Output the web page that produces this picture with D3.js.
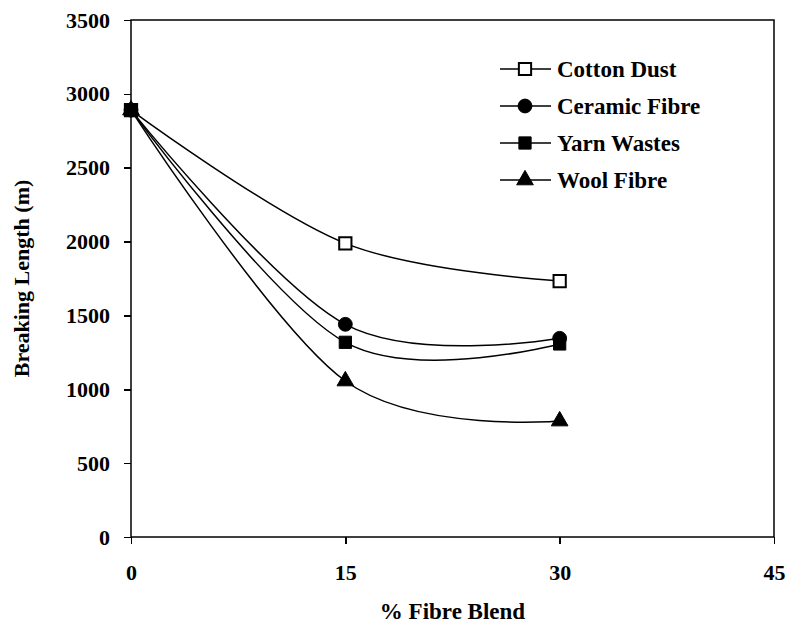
<!DOCTYPE html>
<html>
<head>
    <meta charset="utf-8">
    <script src="https://cdnjs.cloudflare.com/ajax/libs/d3/7.8.5/d3.min.js"></script>
    <style>
        body { margin: 0; background-color: #fff; }
        .axis path, .axis line { fill: none; stroke: #000; stroke-width: 1.5px; shape-rendering: crispEdges; }
    </style>
</head>
<body>
    <svg width="788" height="626"></svg>
    <script>
        // data
        var blend = [0, 15, 30];
        var seriesNames = ["Cotton Dust", "Ceramic Fibre", "Yarn Wastes", "Wool Fibre"];
        var cottonDust = [2890, 1988, 1733];
        var ceramicFibre = [2890, 1440, 1345];
        var yarnWastes = [2890, 1318, 1307];
        var woolFibre = [2890, 1056, 785];
        var xTicks = [0, 15, 30, 45];
        var yTicks = [0, 500, 1000, 1500, 2000, 2500, 3000, 3500];

        var FONT = "'Liberation Serif', 'Times New Roman', 'DejaVu Serif', serif";

        var series = [
            {name: seriesNames[0], values: cottonDust, symbol: "square", fill: "#fff"},
            {name: seriesNames[1], values: ceramicFibre, symbol: "circle", fill: "#000"},
            {name: seriesNames[2], values: yarnWastes, symbol: "square", fill: "#000"},
            {name: seriesNames[3], values: woolFibre, symbol: "triangle", fill: "#000"}
        ];

        var svg = d3.select("svg"),
            margin = {top: 20, right: 14, bottom: 89, left: 131},
            width = svg.attr("width") - margin.left - margin.right,
            height = svg.attr("height") - margin.top - margin.bottom,
            g = svg.append("g").attr("transform", "translate(" + margin.left + "," + margin.top + ")");

        var x = d3.scaleLinear().domain([0, 45]).range([0, width]),
            y = d3.scaleLinear().domain([0, 3500]).range([height, 0]);

        // frame
        g.append("rect")
            .attr("width", width)
            .attr("height", height)
            .attr("fill", "none")
            .attr("stroke", "#000")
            .attr("stroke-width", 1.5);

        var xAxis = g.append("g")
            .attr("class", "axis")
            .attr("transform", "translate(0," + height + ")")
            .call(d3.axisBottom(x).tickValues(xTicks).tickFormat(d3.format("d")).tickSize(7).tickPadding(20));
        xAxis.select(".domain").remove();

        var yAxis = g.append("g")
            .attr("class", "axis")
            .call(d3.axisLeft(y).tickValues(yTicks).tickFormat(d3.format("d")).tickSize(7).tickPadding(14));
        yAxis.select(".domain").remove();

        [xAxis, yAxis].forEach(function(a) {
            a.attr("font-family", null).attr("font-size", null);
            a.selectAll("text")
                .style("font-family", FONT)
                .style("font-weight", "bold")
                .style("font-size", "22px")
                .attr("fill", "#000");
        });

        // lines
        var line = d3.line()
            .x(function(d, i) { return x(blend[i]); })
            .y(function(d) { return y(d); })
            .curve(d3.curveCardinal.tension(0));

        g.selectAll(".line")
            .data(series)
            .enter()
            .append("path")
            .attr("class", "line")
            .attr("d", function(d) { return line(d.values); })
            .attr("fill", "none")
            .attr("stroke", "#000")
            .attr("stroke-width", 1.5);

        function symbolPath(s) {
            if (s === "circle") return d3.symbol().type(d3.symbolCircle).size(150)();
            if (s === "triangle") return d3.symbol().type(d3.symbolTriangle).size(120)();
            return d3.symbol().type(d3.symbolSquare).size(150)();
        }

        series.forEach(function(s) {
            g.selectAll(null)
                .data(s.values)
                .enter()
                .append("path")
                .attr("transform", function(d, i) { return "translate(" + x(blend[i]) + "," + y(d) + ")"; })
                .attr("d", symbolPath(s.symbol))
                .attr("fill", s.fill)
                .attr("stroke", "#000")
                .attr("stroke-width", s.fill === "#fff" ? 2 : 1);
        });

        // legend
        var legend = svg.append("g").attr("transform", "translate(500,69)");
        var item = legend.selectAll(".item")
            .data(series)
            .enter()
            .append("g")
            .attr("transform", function(d, i) { return "translate(0," + i * 37 + ")"; });
        item.append("line")
            .attr("x1", 0).attr("x2", 51)
            .attr("stroke", "#000").attr("stroke-width", 1.5);
        item.append("path")
            .attr("transform", "translate(25,0)")
            .attr("d", function(d) { return symbolPath(d.symbol); })
            .attr("fill", function(d) { return d.fill; })
            .attr("stroke", "#000")
            .attr("stroke-width", function(d) { return d.fill === "#fff" ? 2 : 1; });
        item.append("text")
            .attr("x", 57)
            .attr("dy", "0.33em")
            .style("font-family", FONT)
            .style("font-weight", "bold")
            .style("font-size", "23px")
            .text(function(d) { return d.name; });

        // axis titles
        svg.append("text")
            .attr("x", margin.left + width / 2)
            .attr("y", 619)
            .attr("text-anchor", "middle")
            .style("font-family", FONT)
            .style("font-weight", "bold")
            .style("font-size", "23px")
            .text("% Fibre Blend");

        svg.append("text")
            .attr("transform", "translate(29," + (margin.top + height / 2) + ") rotate(-90)")
            .attr("text-anchor", "middle")
            .style("font-family", FONT)
            .style("font-weight", "bold")
            .style("font-size", "22px")
            .text("Breaking Length (m)");
    </script>
</body>
</html>
